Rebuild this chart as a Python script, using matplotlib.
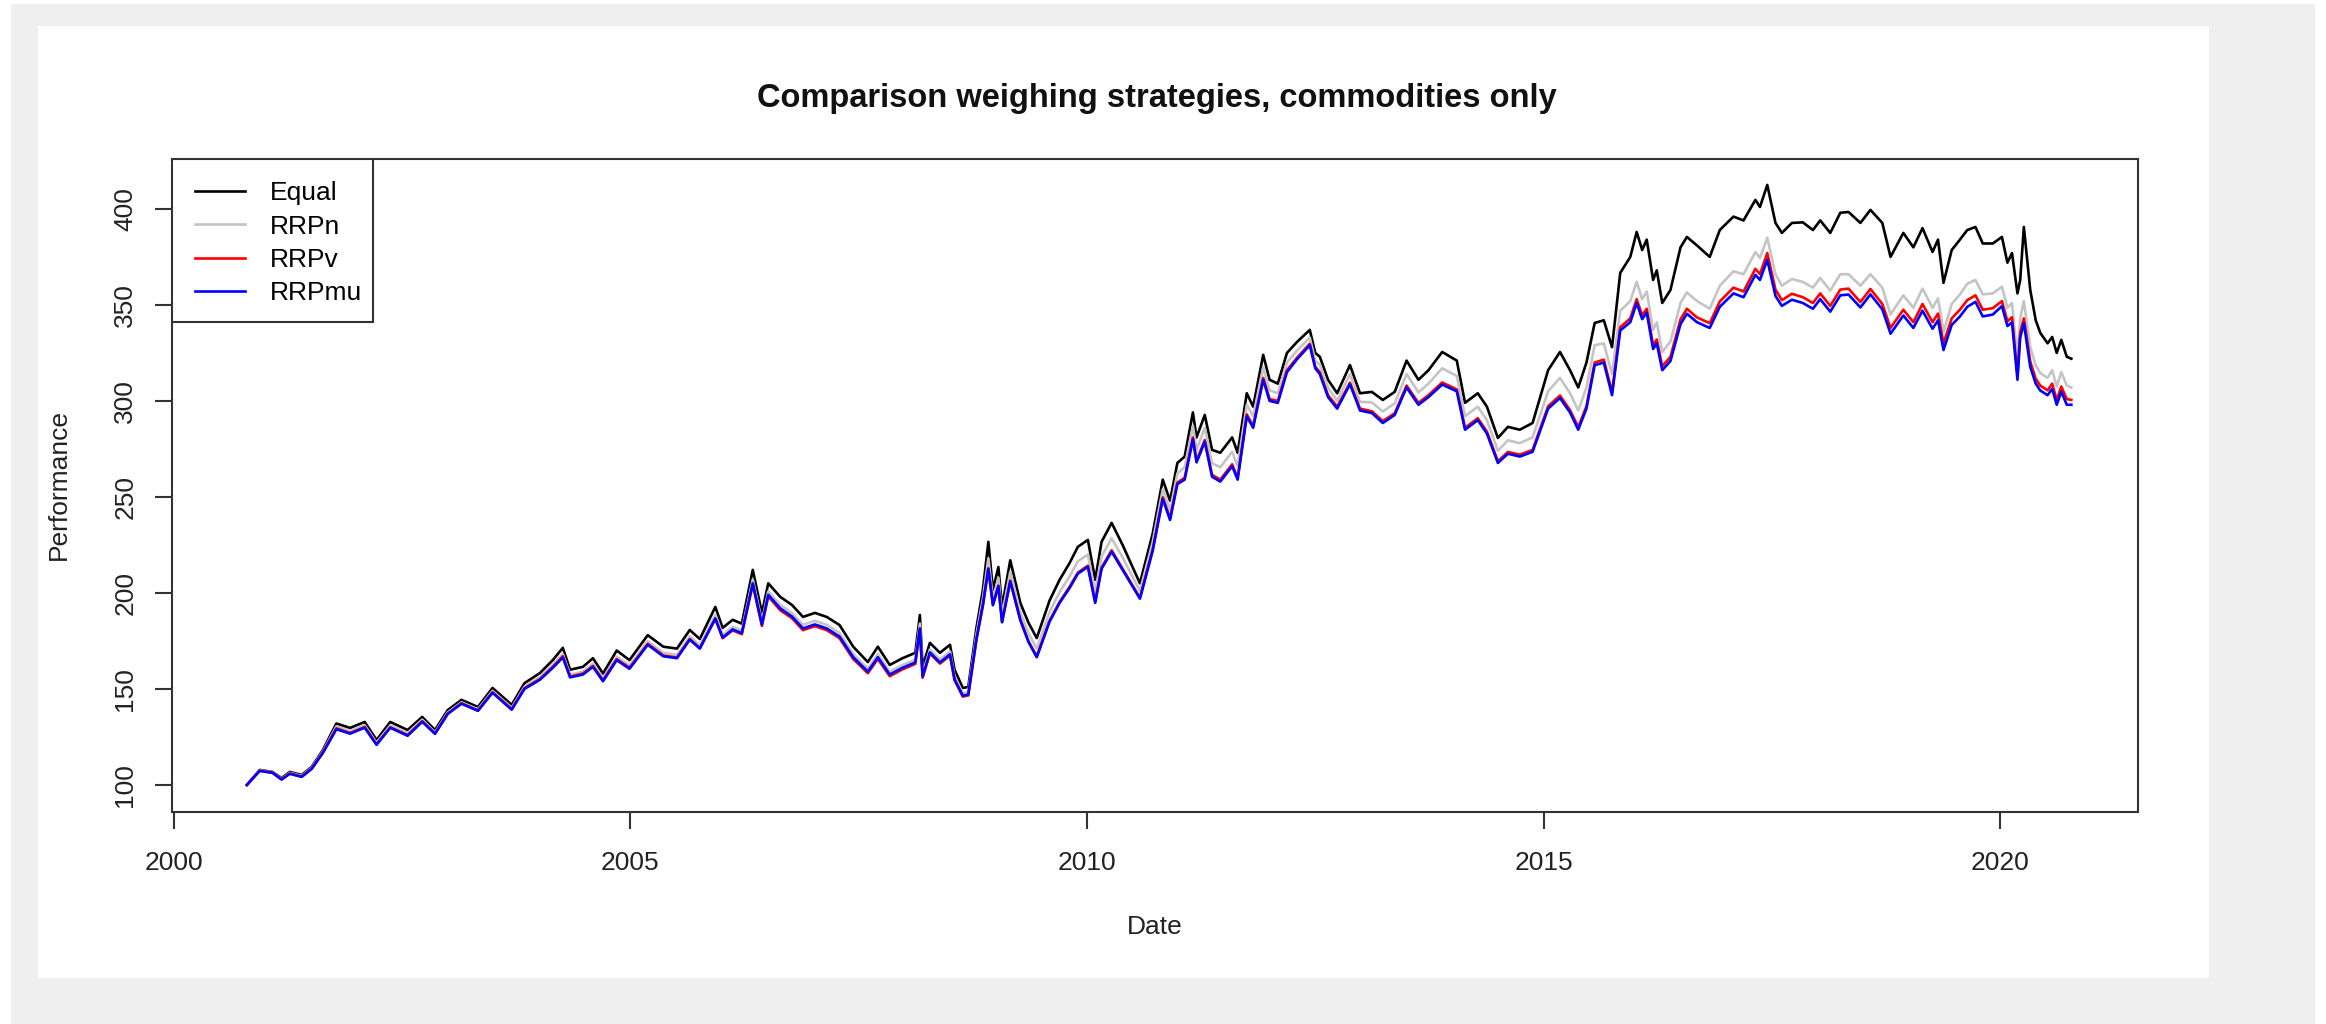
import matplotlib
matplotlib.use("Agg")
import matplotlib.pyplot as plt
from matplotlib.patches import Rectangle

plt.rcParams['font.family'] = ['Liberation Sans', 'DejaVu Sans']

# Time axis (decimal years)
dates = [
    2000.80, 2000.94, 2001.08, 2001.18, 2001.27, 2001.40, 2001.51, 2001.63, 2001.78, 2001.93,
    2002.09, 2002.22, 2002.37, 2002.56, 2002.72, 2002.86, 2003.00, 2003.15, 2003.33, 2003.49,
    2003.70, 2003.84, 2004.01, 2004.15, 2004.26, 2004.34, 2004.48, 2004.59, 2004.70, 2004.85,
    2004.99, 2005.19, 2005.36, 2005.51, 2005.65, 2005.76, 2005.93, 2006.01, 2006.12, 2006.22,
    2006.34, 2006.44, 2006.51, 2006.64, 2006.77, 2006.89, 2007.02, 2007.15, 2007.29, 2007.44,
    2007.60, 2007.71, 2007.84, 2007.98, 2008.12, 2008.17, 2008.20, 2008.28, 2008.39, 2008.50,
    2008.55, 2008.64, 2008.70, 2008.79, 2008.86, 2008.92, 2008.97, 2009.03, 2009.07, 2009.16,
    2009.27, 2009.36, 2009.45, 2009.59, 2009.70, 2009.81, 2009.90, 2010.01, 2010.09, 2010.16,
    2010.27, 2010.39, 2010.58, 2010.72, 2010.83, 2010.91, 2010.99, 2011.07, 2011.16, 2011.20,
    2011.29, 2011.37, 2011.46, 2011.59, 2011.65, 2011.75, 2011.82, 2011.93, 2012.00, 2012.09,
    2012.19, 2012.30, 2012.44, 2012.50, 2012.55, 2012.64, 2012.74, 2012.88, 2012.99, 2013.12,
    2013.24, 2013.37, 2013.50, 2013.63, 2013.74, 2013.89, 2014.05, 2014.14, 2014.28, 2014.38,
    2014.50, 2014.61, 2014.74, 2014.88, 2015.05, 2015.18, 2015.29, 2015.38, 2015.47, 2015.56,
    2015.66, 2015.75, 2015.84, 2015.95, 2016.02, 2016.08, 2016.13, 2016.20, 2016.24, 2016.30,
    2016.39, 2016.50, 2016.57, 2016.68, 2016.82, 2016.93, 2017.08, 2017.19, 2017.32, 2017.37,
    2017.45, 2017.54, 2017.61, 2017.72, 2017.84, 2017.95, 2018.03, 2018.14, 2018.25, 2018.34,
    2018.47, 2018.58, 2018.71, 2018.80, 2018.94, 2019.05, 2019.15, 2019.26, 2019.32, 2019.38,
    2019.47, 2019.56, 2019.64, 2019.73, 2019.81, 2019.92, 2020.02, 2020.08, 2020.13, 2020.19,
    2020.22, 2020.26, 2020.33, 2020.39, 2020.44, 2020.52, 2020.57, 2020.62, 2020.67, 2020.73,
    2020.78,
]

equal = [
    100.0, 107.8, 106.8, 103.6, 106.8, 105.2, 109.4, 118.0, 132.0, 129.7,
    132.8, 123.4, 132.8, 128.6, 135.4, 128.6, 139.0, 144.3, 140.6, 150.5,
    141.7, 153.0, 158.3, 165.0, 171.4, 160.0, 161.5, 166.0, 158.0, 170.0,
    165.0, 178.0, 172.0, 171.0, 180.7, 176.0, 192.7, 181.8, 186.0, 184.0,
    212.0, 189.6, 205.0, 198.0, 193.7, 187.5, 189.6, 187.5, 183.3, 172.0,
    164.0, 172.0, 162.5, 166.0, 168.8, 188.5, 161.5, 174.0, 168.8, 173.0,
    160.0, 150.5, 151.0, 182.0, 201.6, 226.6, 201.6, 213.5, 192.7, 217.0,
    194.8, 184.4, 176.5, 196.0, 206.8, 215.6, 224.0, 227.6, 206.8, 226.6,
    236.5, 225.0, 205.0, 231.0, 259.0, 248.0, 267.7, 271.0, 294.0, 281.0,
    292.7, 274.5, 273.0, 281.0, 273.0, 304.0, 297.0, 324.0, 311.0, 309.0,
    325.0, 330.7, 337.0, 325.0, 323.0, 311.0, 304.0, 318.7, 304.0, 304.7,
    300.5, 304.7, 321.0, 311.0, 316.0, 325.5, 321.0, 299.0, 304.0, 297.0,
    280.7, 286.5, 285.0, 288.5, 316.0, 325.5, 316.0, 307.0, 320.0, 340.6,
    342.0, 328.0, 366.7, 375.0, 388.0, 378.6, 384.0, 363.0, 368.0, 351.0,
    357.8, 380.0, 385.4, 381.0, 375.0, 389.0, 396.0, 394.0, 404.7, 401.0,
    412.5, 392.7, 387.5, 392.7, 393.0, 389.0, 394.0, 387.5, 398.0, 398.4,
    392.7, 399.5, 392.7, 375.0, 387.5, 380.0, 390.0, 377.6, 384.0, 361.5,
    378.6, 384.0, 389.0, 390.6, 382.0, 382.0, 385.4, 372.0, 377.0, 356.0,
    363.0, 390.6, 357.8, 342.0, 335.4, 330.0, 333.3, 325.0, 331.8, 323.0,
    322.0,
]

rrp_n = [
    100.0, 107.6, 106.6, 103.2, 106.3, 104.7, 108.9, 117.2, 130.5, 128.0,
    131.0, 122.0, 131.0, 127.0, 134.0, 127.4, 137.8, 143.0, 139.4, 149.0,
    140.2, 151.2, 156.2, 162.5, 168.2, 157.4, 159.0, 163.2, 155.5, 166.8,
    162.2, 174.8, 168.8, 167.8, 177.4, 172.6, 188.5, 178.2, 182.4, 180.4,
    207.0, 185.2, 200.8, 193.8, 189.5, 183.4, 185.5, 183.4, 179.2, 168.2,
    160.5, 168.3, 159.0, 162.5, 165.2, 184.0, 158.0, 170.5, 165.3, 169.5,
    156.5, 147.8, 148.3, 178.5, 197.0, 218.0, 197.0, 208.0, 188.5, 211.0,
    190.0, 179.0, 171.0, 190.0, 200.4, 208.6, 216.5, 220.0, 200.5, 219.0,
    228.5, 218.5, 201.0, 226.5, 254.0, 243.0, 262.2, 265.5, 287.0, 274.5,
    286.0, 267.5, 265.5, 273.5, 266.0, 298.0, 292.0, 317.5, 305.5, 304.0,
    320.0, 326.2, 333.0, 321.0, 319.0, 307.0, 300.0, 314.0, 299.5, 299.2,
    294.5, 298.7, 314.0, 304.5, 309.0, 317.0, 313.0, 292.0, 297.0, 290.0,
    274.0, 279.5, 278.0, 281.0, 305.0, 312.0, 304.0, 295.0, 307.0, 329.0,
    330.0, 314.0, 347.0, 352.0, 362.0, 353.0, 357.0, 337.0, 341.0, 325.5,
    331.0, 351.0, 356.5, 352.0, 348.0, 360.0, 367.5, 366.0, 377.5, 374.5,
    385.0, 366.0, 360.0, 363.5, 362.0, 359.0, 364.0, 357.5, 366.0, 366.0,
    360.0, 366.0, 359.0, 345.0, 355.0, 348.5, 358.5, 348.5, 353.5, 336.0,
    350.5, 355.5, 361.0, 363.0, 355.5, 356.0, 359.5, 348.5, 351.0, 322.0,
    343.0, 352.0, 328.0, 318.5, 314.5, 312.0, 316.0, 307.5, 315.0, 308.0,
    307.0,
]

rrp_v = [
    100.0, 107.4, 106.4, 102.9, 106.0, 104.3, 108.5, 116.7, 129.5, 127.0,
    130.2, 121.2, 130.0, 126.0, 133.2, 126.8, 137.2, 142.5, 138.8, 148.3,
    139.5, 150.4, 155.2, 161.5, 167.0, 156.4, 158.0, 162.0, 154.5, 165.5,
    161.0, 173.5, 167.4, 166.4, 176.0, 171.2, 186.5, 176.4, 180.5, 178.5,
    204.3, 182.8, 198.2, 191.0, 186.8, 180.6, 182.7, 180.6, 176.4, 165.6,
    158.2, 165.6, 156.6, 160.2, 163.0, 181.0, 155.8, 168.4, 163.2, 167.4,
    154.5, 146.0, 146.6, 175.8, 193.5, 212.8, 193.8, 203.8, 185.0, 206.4,
    186.2, 174.8, 167.0, 185.5, 195.3, 203.2, 210.6, 214.2, 195.4, 213.2,
    222.2, 212.6, 197.5, 222.6, 249.8, 238.8, 257.5, 260.0, 281.0, 269.0,
    279.6, 261.5, 259.0, 267.0, 260.0, 293.0, 287.0, 312.0, 301.0, 300.0,
    316.0, 322.5, 329.8, 317.8, 315.0, 303.0, 297.0, 309.5, 296.0, 294.6,
    289.5, 293.6, 308.0, 299.0, 303.0, 309.6, 306.0, 286.0, 291.0, 284.0,
    268.6, 273.4, 272.0, 274.5, 297.2, 302.8, 295.2, 286.4, 297.3, 320.0,
    321.5, 304.5, 338.4, 343.0, 353.0, 344.6, 348.0, 329.0, 332.0, 318.0,
    323.0, 342.5, 348.0, 343.5, 340.5, 351.8, 359.0, 357.0, 368.8, 366.0,
    377.0, 358.0, 352.5, 355.8, 354.0, 351.0, 356.0, 349.5, 358.0, 358.5,
    351.5, 358.3, 350.5, 338.0, 347.5, 341.0, 350.5, 341.0, 345.5, 330.0,
    343.0, 347.5, 352.5, 355.0, 347.5, 348.3, 352.0, 341.5, 343.6, 313.5,
    335.5, 343.0, 320.5, 311.5, 308.0, 305.5, 309.0, 300.5, 307.5, 301.0,
    300.5,
]

rrp_mu = [
    100.0, 107.3, 106.3, 102.8, 105.8, 104.2, 108.4, 116.5, 129.0, 126.7,
    129.8, 120.9, 129.8, 125.6, 132.9, 126.6, 137.0, 142.3, 138.6, 148.0,
    139.2, 150.0, 154.8, 161.0, 166.4, 156.0, 157.5, 161.5, 154.0, 165.0,
    160.5, 173.0, 167.0, 166.0, 175.7, 171.0, 186.7, 176.8, 181.0, 179.0,
    205.0, 183.6, 199.0, 192.0, 187.7, 181.5, 183.6, 181.5, 177.3, 166.5,
    159.0, 166.5, 157.5, 161.0, 163.8, 181.5, 156.5, 169.0, 163.8, 168.0,
    155.0, 146.5, 147.0, 176.0, 193.6, 212.6, 193.6, 203.5, 184.7, 206.0,
    185.8, 174.4, 166.5, 185.0, 194.8, 202.6, 210.0, 213.6, 194.8, 212.6,
    221.5, 212.0, 197.0, 222.0, 249.0, 238.0, 256.7, 259.0, 280.0, 268.0,
    278.7, 260.5, 258.0, 266.0, 259.0, 292.0, 286.0, 311.0, 300.0, 299.0,
    315.0, 321.7, 329.0, 317.0, 314.0, 302.0, 296.0, 308.7, 295.0, 293.7,
    288.5, 292.7, 307.0, 298.0, 302.0, 308.5, 305.0, 285.0, 290.0, 283.0,
    267.7, 272.5, 271.0, 273.5, 296.0, 301.5, 294.0, 285.0, 296.0, 318.6,
    320.0, 303.0, 336.7, 341.0, 351.0, 342.6, 346.0, 327.0, 330.0, 316.0,
    320.8, 340.0, 345.4, 341.0, 338.0, 349.0, 356.0, 354.0, 365.7, 363.0,
    373.5, 354.7, 349.5, 352.7, 351.0, 348.0, 353.0, 346.5, 355.0, 355.4,
    348.7, 355.5, 347.7, 335.0, 344.5, 338.0, 347.0, 337.6, 342.0, 326.5,
    339.6, 344.0, 349.0, 351.6, 344.0, 345.0, 349.4, 339.0, 341.0, 311.0,
    333.0, 340.6, 317.8, 309.0, 305.4, 303.0, 306.3, 298.0, 304.8, 298.0,
    298.0,
]

series_names = ["Equal", "RRPn", "RRPv", "RRPmu"]
series_colors = ["black", "#c4c4c4", "red", "blue"]
x_ticks = [2000, 2005, 2010, 2015, 2020]
y_ticks = [100, 150, 200, 250, 300, 350, 400]

W, H = 2326, 1024
fig = plt.figure(figsize=(W / 100, H / 100), dpi=100, facecolor="white")

# grey frame and inner white panel
fig.patches.append(Rectangle((11 / W, 0), (2315 - 11) / W, 1 - 4 / H,
                             transform=fig.transFigure, facecolor="#efefef",
                             edgecolor="none", zorder=-2))
fig.patches.append(Rectangle((38 / W, 1 - 978 / H), (2209 - 38) / W, (978 - 26) / H,
                             transform=fig.transFigure, facecolor="white",
                             edgecolor="none", zorder=-1))

ax = fig.add_axes([172 / W, 1 - 812 / H, (2138 - 172) / W, (812 - 159) / H])
ax.set_facecolor("white")

for vals, name, col in zip([equal, rrp_n, rrp_v, rrp_mu], series_names, series_colors):
    ax.plot(dates, vals, color=col, lw=1.9, label=name)

ax.set_xlim(1999.98, 2021.51)
ax.set_ylim(85.9, 426.0)
ax.set_xticks(x_ticks)
ax.set_xticklabels([str(v) for v in x_ticks])
ax.set_yticks(y_ticks)
ax.set_yticklabels([str(v) for v in y_ticks], rotation=90, va="center")

for s in ax.spines.values():
    s.set_linewidth(1.5)
    s.set_color("#333333")
ax.tick_params(axis="both", direction="out", length=12, width=1.5, color="#333333",
               labelsize=19, labelcolor="#222222")
ax.tick_params(axis="x", pad=16)
ax.tick_params(axis="y", pad=13)

# legend box in the top-left corner of the plot region
ax.add_patch(Rectangle((172 / W, 1 - 322 / H), (373 - 172) / W, (322 - 159) / H,
                       transform=fig.transFigure, facecolor="white",
                       edgecolor="#333333", lw=1.5, zorder=4))
leg = ax.legend(loc="upper left", bbox_to_anchor=(195 / W, 1 - 181 / H),
                bbox_transform=fig.transFigure, borderaxespad=0, borderpad=0,
                frameon=False, fontsize=19, handlelength=1.9, handletextpad=0.95,
                labelspacing=0.36)
leg.set_zorder(5)
for ln in leg.get_lines():
    ln.set_linewidth(1.9)

fig.text(1157 / W, 1 - 99 / H, "Comparison weighing strategies, commodities only",
         ha="center", va="center", fontsize=23.5, fontweight="bold", color="#111111")
fig.text(1155 / W, 1 - 927 / H, "Date", ha="center", va="center", fontsize=19,
         color="#222222")
fig.text(59 / W, 1 - 485 / H, "Performance", ha="center", va="center", fontsize=19,
         rotation=90, color="#222222")

fig.savefig("out.png", dpi=100, facecolor=fig.get_facecolor())
